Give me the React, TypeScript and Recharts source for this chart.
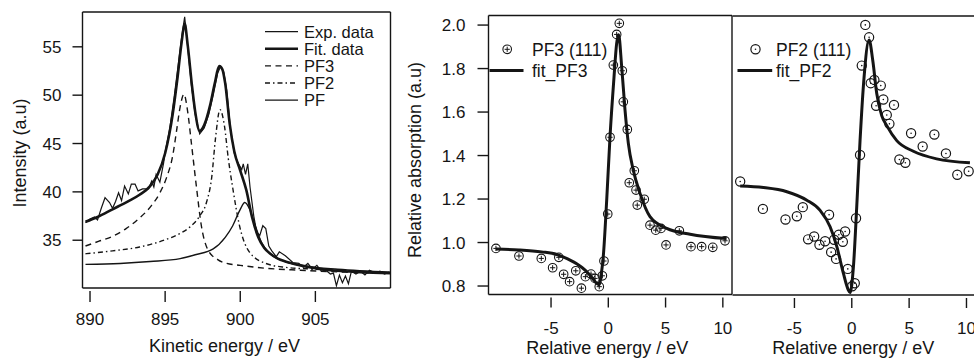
import React from 'react';
import { ComposedChart, Line, Scatter, XAxis, YAxis, ReferenceLine, Legend } from 'recharts';

const FONT = '"Liberation Sans", Arial, Helvetica, sans-serif';
const INK = '#151515';

// ---------- Panel 1: XPS-like spectrum ----------
const p1XTicks = [890, 895, 900, 905];
const p1YTicks = [35, 40, 45, 50, 55];
const p1XDomain: [number, number] = [889.5, 910];
const p1YDomain: [number, number] = [30.06, 58.6];

const expData: [number, number][] = [
  [889.7, 36.8], [890.0, 37.2], [890.3, 37.4], [890.5, 37.1], [890.75, 38.3], [891.0, 39.4], [891.3, 38.9],
  [891.5, 38.3], [891.7, 39.0], [891.9, 39.9], [892.1, 39.1], [892.3, 40.6], [892.55, 39.8], [892.75, 40.8],
  [893.0, 40.8], [893.2, 40.1], [893.5, 40.3], [893.9, 40.3], [894.1, 41.1], [894.25, 40.5], [894.4, 41.8],
  [894.65, 41.0], [894.9, 43.0], [895.0, 44.1], [895.3, 46.5], [895.6, 49.8], [895.9, 53.5], [896.1, 56.0],
  [896.3, 58.1], [896.5, 55.0], [896.75, 51.0], [897.0, 48.0], [897.3, 46.0], [897.6, 46.6], [897.9, 48.0],
  [898.2, 50.0], [898.5, 52.3], [898.7, 53.0], [898.9, 52.4], [899.1, 50.5], [899.35, 46.5], [899.6, 44.0],
  [899.85, 43.0], [900.1, 42.3], [900.2, 42.9], [900.35, 41.8], [900.5, 42.9], [900.65, 40.5], [900.9, 37.5],
  [901.1, 35.8], [901.3, 35.5], [901.5, 36.5], [901.7, 36.2], [901.9, 34.4], [902.1, 33.9], [902.4, 33.3],
  [902.6, 33.8], [903.0, 33.4], [903.5, 32.7], [903.9, 32.6], [904.2, 32.2], [904.5, 32.6], [904.8, 32.0],
  [905.1, 32.4], [905.4, 31.8], [905.7, 31.9], [906.0, 31.5], [906.2, 31.6], [906.4, 30.3], [906.6, 31.4],
  [906.8, 30.6], [907.0, 31.3], [907.2, 30.5], [907.4, 31.8], [907.7, 31.5], [908.0, 31.8], [908.3, 31.4],
  [908.6, 31.9], [909.0, 31.6], [909.3, 31.8], [909.6, 31.5], [909.9, 31.7],
];

const fitData: [number, number][] = [
  [889.7, 36.9], [890.5, 37.4], [891.5, 38.2], [892.5, 39.0], [893.3, 39.7], [894.0, 40.6], [894.5, 41.8],
  [895.0, 44.0], [895.5, 48.0], [895.8, 51.5], [896.1, 55.5], [896.3, 57.4], [896.5, 55.2], [896.8, 50.8],
  [897.0, 48.3], [897.3, 46.3], [897.6, 46.9], [898.0, 49.0], [898.3, 51.2], [898.6, 53.0], [898.8, 52.7],
  [899.0, 51.2], [899.3, 47.0], [899.6, 44.2], [900.0, 42.2], [900.4, 40.2], [900.8, 37.3], [901.2, 35.3],
  [901.6, 34.2], [902.0, 33.6], [902.5, 33.1], [903.0, 32.8], [904.0, 32.4], [905.0, 32.1], [906.0, 31.9],
  [907.0, 31.8], [908.0, 31.7], [910.0, 31.6],
];

const pf3Comp: [number, number][] = [
  [889.7, 34.4], [890.6, 34.9], [891.5, 35.4], [892.4, 36.2], [893.3, 37.3], [894.1, 38.6], [894.65, 39.9],
  [895.1, 41.5], [895.5, 43.7], [895.75, 46.2], [896.0, 48.8], [896.25, 50.1], [896.5, 48.3], [896.75, 45.0],
  [897.1, 40.3], [897.4, 36.6], [897.85, 34.0], [898.5, 33.0], [899.1, 32.6], [900.0, 32.4], [901.7, 32.1],
  [904.0, 31.9], [907.0, 31.7], [910.0, 31.6],
];

const pf2Comp: [number, number][] = [
  [889.7, 33.6], [891.5, 33.9], [893.3, 34.3], [895.1, 35.1], [896.0, 35.7], [896.6, 36.3], [897.3, 37.5],
  [897.75, 38.9], [898.1, 41.5], [898.35, 45.5], [898.65, 48.5], [898.95, 46.8], [899.2, 43.5], [899.5, 40.4],
  [899.95, 36.5], [900.6, 33.8], [901.7, 32.6], [903.0, 32.2], [905.0, 32.0], [907.5, 31.8], [910.0, 31.6],
];

const pfComp: [number, number][] = [
  [889.7, 32.5], [892.0, 32.6], [894.0, 32.8], [896.0, 33.1], [897.0, 33.5], [898.2, 34.1], [899.0, 35.3],
  [899.5, 36.5], [900.0, 38.2], [900.3, 38.9], [900.6, 38.3], [901.0, 36.5], [901.4, 34.8], [902.0, 33.6],
  [903.0, 32.8], [904.5, 32.3], [906.5, 32.0], [910.0, 31.7],
];

const legend1Labels = ['Exp. data', 'Fit. data', 'PF3', 'PF2', 'PF'];

// ---------- Panels 2 & 3: relative absorption ----------
const relXTicks = [-5, 0, 5, 10];
const relYTicks = [0.8, 1.0, 1.2, 1.4, 1.6, 1.8, 2.0];
const relYDomain: [number, number] = [0.761, 2.044];
const p2XDomain: [number, number] = [-10.46, 10.8];
const p3XDomain: [number, number] = [-10.4, 10.83];

const pf3Points: [number, number][] = [
  [-9.81, 0.973], [-7.8, 0.938], [-5.85, 0.927], [-4.86, 0.884], [-4.32, 0.932], [-3.9, 0.854], [-3.38, 0.82],
  [-2.84, 0.87], [-2.35, 0.79], [-2.0, 0.843], [-1.51, 0.855], [-1.16, 0.835], [-0.79, 0.797], [-0.52, 0.847],
  [-0.38, 0.915], [-0.05, 1.131], [0.15, 1.484], [0.44, 1.816], [0.73, 1.957], [0.96, 2.008], [1.22, 1.79],
  [1.31, 1.647], [1.66, 1.52], [1.83, 1.275], [2.27, 1.33], [2.42, 1.241], [2.53, 1.172], [3.14, 1.199],
  [3.64, 1.08], [4.14, 1.057], [4.6, 1.065], [5.04, 0.989], [6.2, 1.054], [7.22, 0.981], [8.15, 0.981],
  [9.12, 0.978], [10.19, 1.008],
];

const fitPF3: [number, number][] = [
  [-9.81, 0.97], [-7.8, 0.966], [-5.82, 0.957], [-4.5, 0.945], [-3.93, 0.933], [-3.3, 0.918], [-2.76, 0.902],
  [-2.3, 0.885], [-1.89, 0.866], [-1.45, 0.84], [-1.01, 0.812], [-0.8, 0.806], [-0.6, 0.86], [-0.44, 0.935],
  [-0.14, 1.195], [0.15, 1.487], [0.5, 1.762], [0.73, 1.916], [0.9, 1.955], [1.17, 1.808], [1.46, 1.609],
  [1.75, 1.456], [2.18, 1.333], [2.77, 1.226], [3.64, 1.119], [5.1, 1.065], [7.14, 1.038], [10.33, 1.018],
];

const pf2Points: [number, number][] = [
  [-9.73, 1.283], [-7.75, 1.157], [-5.78, 1.108], [-4.79, 1.123], [-4.27, 1.165], [-3.81, 1.017], [-3.28, 1.03],
  [-2.82, 0.992], [-2.33, 1.008], [-1.98, 1.13], [-1.8, 0.958], [-1.54, 1.015], [-1.37, 0.927], [-1.13, 1.038],
  [-0.78, 1.006], [-0.58, 1.053], [-0.35, 0.881], [0.03, 0.801], [0.26, 0.815], [0.37, 1.114], [0.72, 1.405],
  [0.87, 1.816], [1.18, 2.003], [1.51, 1.946], [1.65, 1.735], [1.97, 1.75], [2.12, 1.631], [2.53, 1.724],
  [2.75, 1.66], [3.05, 1.589], [3.28, 1.548], [3.68, 1.635], [4.15, 1.384], [4.67, 1.369], [5.17, 1.505],
  [6.18, 1.444], [7.2, 1.499], [8.21, 1.412], [9.2, 1.314], [10.19, 1.33],
];

const fitPF2: [number, number][] = [
  [-9.73, 1.262], [-7.7, 1.255], [-5.66, 1.236], [-3.92, 1.197], [-2.76, 1.15], [-1.89, 1.075], [-1.31, 0.985],
  [-0.73, 0.86], [-0.3, 0.784], [-0.15, 0.772], [0.14, 0.889], [0.43, 1.165], [0.72, 1.471], [1.07, 1.762],
  [1.51, 1.934], [1.83, 1.839], [2.18, 1.686], [2.61, 1.586], [3.05, 1.54], [3.92, 1.471], [5.37, 1.422],
  [7.4, 1.387], [10.3, 1.369],
];

const toPts = (a: [number, number][]) => a.map(([x, y]) => ({ x, y }));

function makeXTick(gap: number, len: number, dy: number) {
  return (props: any) => {
    const { x, y, payload } = props;
    return (
      <g>
        <line x1={x} x2={x} y1={y + gap} y2={y + gap + len} stroke={INK} strokeWidth={1.4} />
        <text x={x} y={y + dy} textAnchor="middle" fontSize={17} fill={INK} fontFamily={FONT}>
          {String(payload.value)}
        </text>
      </g>
    );
  };
}

const PlusCircle = (props: any) => {
  const { cx, cy } = props;
  if (cx == null || cy == null) return null;
  return (
    <g>
      <circle cx={cx} cy={cy} r={4.3} fill="none" stroke={INK} strokeWidth={1.1} />
      <line x1={cx - 2.6} x2={cx + 2.6} y1={cy} y2={cy} stroke={INK} strokeWidth={1} />
      <line x1={cx} x2={cx} y1={cy - 2.6} y2={cy + 2.6} stroke={INK} strokeWidth={1} />
    </g>
  );
};

const DotCircle = (props: any) => {
  const { cx, cy } = props;
  if (cx == null || cy == null) return null;
  return (
    <g>
      <circle cx={cx} cy={cy} r={4.6} fill="none" stroke={INK} strokeWidth={1.2} />
      <circle cx={cx} cy={cy} r={0.8} fill={INK} />
    </g>
  );
};

const dashStyles = [
  { w: 1.2, dash: undefined },
  { w: 2.6, dash: undefined },
  { w: 1.4, dash: '6 4.5' },
  { w: 1.4, dash: '5 3 1.5 3' },
  { w: 1.4, dash: undefined },
];

const Legend1 = () => (
  <svg width={140} height={95} style={{ display: 'block', overflow: 'visible' }}>
    {legend1Labels.map((label, i) => {
      const y = 11.7 + i * 17.1;
      const s = dashStyles[i];
      return (
        <g key={label}>
          <line x1={5} x2={38} y1={y} y2={y} stroke={INK} strokeWidth={s.w} strokeDasharray={s.dash} />
          <text x={44} y={y} dy="0.36em" fontSize={16.5} fill={INK} fontFamily={FONT}>{label}</text>
        </g>
      );
    })}
  </svg>
);

const RelLegend = ({ pointLabel, fitLabel, Marker, markerX, lineX1, lineX2 }: any) => (
  <svg width={150} height={46} style={{ display: 'block', overflow: 'visible' }}>
    <Marker cx={markerX} cy={11.3} />
    <text x={43} y={11.3} dy="0.36em" fontSize={17.5} fill={INK} fontFamily={FONT}>{pointLabel}</text>
    <line x1={lineX1} x2={lineX2} y1={32.5} y2={32.5} stroke={INK} strokeWidth={3} />
    <text x={43} y={32.5} dy="0.36em" fontSize={17.5} fill={INK} fontFamily={FONT}>{fitLabel}</text>
  </svg>
);

const frame = { stroke: INK, strokeWidth: 1.4 };

export default function App() {
  return (
    <div style={{ position: 'absolute', left: 0, top: 0, width: 974, height: 359, overflow: 'hidden', background: '#fff', fontFamily: FONT }}>
      {/* Panel 1 */}
      <div style={{ position: 'absolute', left: 0, top: 0, width: 400, height: 359 }}>
        <ComposedChart width={400} height={359} margin={{ top: 12, right: 9.5, bottom: 0, left: 0 }} style={{ fontFamily: FONT }}>
          <XAxis
            type="number" dataKey="x" domain={p1XDomain} ticks={p1XTicks} allowDataOverflow interval={0}
            axisLine={false} tickLine={false} tickSize={0} tickMargin={0} height={71}
            tick={makeXTick(3, 11, 37)}
            label={{ value: 'Kinetic energy / eV', position: 'insideBottom', offset: 7, dx: -12, fontSize: 18, fill: INK }}
          />
          <YAxis
            type="number" dataKey="y" domain={p1YDomain} ticks={p1YTicks} allowDataOverflow interval={0}
            width={82.5} tickSize={10} tickMargin={11}
            axisLine={frame} tickLine={frame} tick={{ fontSize: 17, fill: INK }}
            label={{ value: 'Intensity (a.u)', angle: -90, position: 'center', dx: -22, dy: 3, fontSize: 18, fill: INK }}
          />
          <ReferenceLine y={p1YDomain[1]} {...frame} />
          <ReferenceLine y={p1YDomain[0]} {...frame} />
          <ReferenceLine x={p1XDomain[1]} {...frame} />
          <Line data={toPts(pfComp)} dataKey="y" type="monotone" dot={false} stroke={INK} strokeWidth={1.4} isAnimationActive={false} />
          <Line data={toPts(pf2Comp)} dataKey="y" type="monotone" dot={false} stroke={INK} strokeWidth={1.4} strokeDasharray="5 3 1.5 3" isAnimationActive={false} />
          <Line data={toPts(pf3Comp)} dataKey="y" type="monotone" dot={false} stroke={INK} strokeWidth={1.4} strokeDasharray="6 4.5" isAnimationActive={false} />
          <Line data={toPts(expData)} dataKey="y" type="linear" dot={false} stroke={INK} strokeWidth={1.2} isAnimationActive={false} />
          <Line data={toPts(fitData)} dataKey="y" type="monotone" dot={false} stroke={INK} strokeWidth={2.6} isAnimationActive={false} />
          <Legend layout="vertical" align="center" verticalAlign="middle"
            wrapperStyle={{ left: 260, top: 20, width: 140, height: 95, margin: 0, padding: 0 }}
            content={() => <Legend1 />} />
        </ComposedChart>
      </div>

      {/* Panel 2 */}
      <div style={{ position: 'absolute', left: 400, top: 0, width: 340, height: 359 }}>
        <ComposedChart width={340} height={359} margin={{ top: 15.5, right: 8, bottom: 0, left: 0 }} style={{ fontFamily: FONT }}>
          <XAxis
            type="number" dataKey="x" domain={p2XDomain} ticks={relXTicks} allowDataOverflow interval={0}
            axisLine={false} tickLine={false} tickSize={0} tickMargin={0} height={64.5}
            tick={makeXTick(3, 10, 39)}
            label={{ value: 'Relative energy / eV', position: 'insideBottom', offset: 5, dx: -3, fontSize: 18, fill: INK }}
          />
          <YAxis
            type="number" dataKey="y" domain={relYDomain} ticks={relYTicks} allowDataOverflow interval={0}
            width={88.5} tickSize={11} tickMargin={12}
            tickFormatter={(v: number) => v.toFixed(1)}
            axisLine={frame} tickLine={frame} tick={{ fontSize: 17, fill: INK }}
            label={{ value: 'Relative absorption (a.u)', angle: -90, position: 'center', dx: -30, dy: 5, fontSize: 18, fill: INK }}
          />
          <ReferenceLine y={relYDomain[1]} {...frame} />
          <ReferenceLine y={relYDomain[0]} {...frame} />
          <ReferenceLine x={p2XDomain[1]} {...frame} />
          <Scatter data={toPts(pf3Points)} dataKey="y" shape={(p: any) => <PlusCircle {...p} />} isAnimationActive={false} />
          <Line data={toPts(fitPF3)} dataKey="y" type="monotone" dot={false} stroke={INK} strokeWidth={3} isAnimationActive={false} />
          <Legend layout="vertical" align="center" verticalAlign="middle"
            wrapperStyle={{ left: 88.5, top: 38, width: 150, height: 46, margin: 0, padding: 0 }}
            content={() => <RelLegend pointLabel="PF3 (111)" fitLabel="fit_PF3" Marker={PlusCircle} markerX={18.2} lineX1={0.5} lineX2={34.5} />} />
        </ComposedChart>
      </div>

      {/* Panel 3 */}
      <div style={{ position: 'absolute', left: 700, top: 0, width: 300, height: 359 }}>
        <ComposedChart width={300} height={359} margin={{ top: 16, right: 24, bottom: 0, left: 32.5 }} style={{ fontFamily: FONT }}>
          <XAxis
            type="number" dataKey="x" domain={p3XDomain} ticks={relXTicks} allowDataOverflow interval={0}
            axisLine={false} tickLine={false} tickSize={0} tickMargin={0} height={64}
            tick={makeXTick(3, 10, 38.5)}
            label={{ value: 'Relative energy / eV', position: 'insideBottom', offset: 5, dx: -1, fontSize: 18, fill: INK }}
          />
          <YAxis
            type="number" dataKey="y" domain={relYDomain} ticks={relYTicks} allowDataOverflow
            width={0} tick={false} tickLine={false} axisLine={frame}
          />
          <ReferenceLine y={relYDomain[1]} {...frame} />
          <ReferenceLine y={relYDomain[0]} {...frame} />
          <ReferenceLine x={p3XDomain[1]} {...frame} />
          <Scatter data={toPts(pf2Points)} dataKey="y" shape={(p: any) => <DotCircle {...p} />} isAnimationActive={false} />
          <Line data={toPts(fitPF2)} dataKey="y" type="monotone" dot={false} stroke={INK} strokeWidth={3} isAnimationActive={false} />
          <Legend layout="vertical" align="center" verticalAlign="middle"
            wrapperStyle={{ left: 32.5, top: 38, width: 150, height: 46, margin: 0, padding: 0 }}
            content={() => <RelLegend pointLabel="PF2 (111)" fitLabel="fit_PF2" Marker={DotCircle} markerX={22.5} lineX1={4.5} lineX2={39.2} />} />
        </ComposedChart>
      </div>
    </div>
  );
}
